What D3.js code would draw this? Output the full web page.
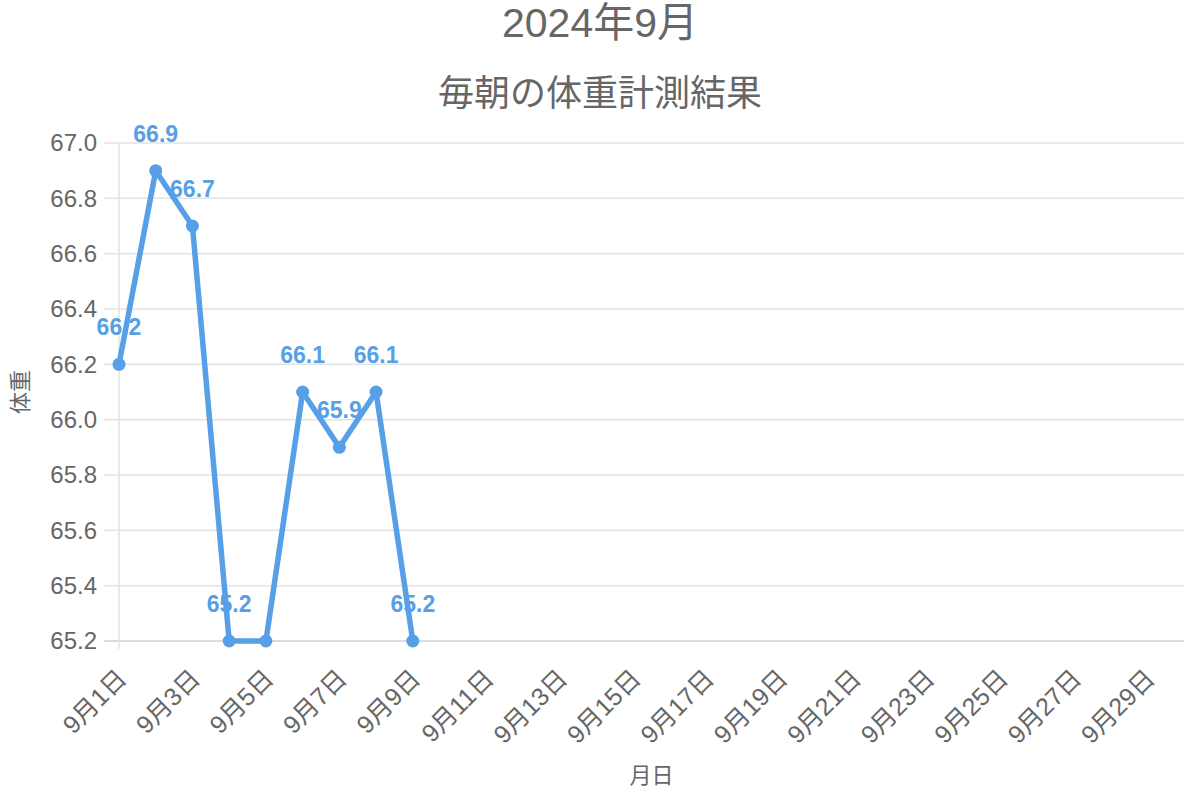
<!DOCTYPE html>
<html>
<head>
<meta charset="utf-8">
<script src="https://cdn.jsdelivr.net/npm/d3@7"></script>
<style>
  body { margin: 0; background: #fff; }
  svg text { font-family: "Liberation Sans", Arial, "Noto Sans CJK JP", sans-serif; }
</style>
</head>
<body>
<div id="chart"></div>
<script>
// 9月1日〜9月30日
const days = d3.range(1, 31).map(d => `9月${d}日`);
// 計測できた日だけ (9/1〜9/9)
const weights = [66.2, 66.9, 66.7, 65.2, 65.2, 66.1, 65.9, 66.1, 65.2];
// 重なるラベルは表示しない (9/5)
const showLabel = [true, true, true, true, false, true, true, true, true];
const yTicks = [65.2, 65.4, 65.6, 65.8, 66.0, 66.2, 66.4, 66.6, 66.8, 67.0];

const width = 1200, height = 800;
const margin = { top: 143, right: 16, bottom: 159, left: 119 };
const color = "#579fe6";
const textColor = "#666";

const svg = d3.select("#chart").append("svg")
  .attr("width", width)
  .attr("height", height);

const x = d3.scalePoint()
  .domain(days)
  .range([margin.left, width - margin.right]);

const y = d3.scaleLinear()
  .domain([65.2, 67.0])
  .range([height - margin.bottom, margin.top]);

// 横のグリッド線
svg.append("g")
  .selectAll("line")
  .data(yTicks)
  .join("line")
  .attr("x1", margin.left - 15)
  .attr("x2", width - margin.right)
  .attr("y1", d => y(d))
  .attr("y2", d => y(d))
  .attr("stroke", d => d === 65.2 ? "#d0d0d0" : "#e3e3e3")
  .attr("stroke-width", 1.5);

// y軸の線
svg.append("line")
  .attr("x1", margin.left).attr("x2", margin.left)
  .attr("y1", margin.top).attr("y2", height - margin.bottom + 8)
  .attr("stroke", "#e3e3e3")
  .attr("stroke-width", 1.5);

// y軸ラベル
svg.append("g")
  .selectAll("text")
  .data(yTicks)
  .join("text")
  .attr("x", margin.left - 22)
  .attr("y", d => y(d))
  .attr("dy", "0.35em")
  .attr("text-anchor", "end")
  .attr("font-size", 24)
  .attr("fill", textColor)
  .text(d => d.toFixed(1));

// x軸ラベル (一日おき)
svg.append("g")
  .selectAll("text")
  .data(days.filter((d, i) => i % 2 === 0 && i < 29))
  .join("text")
  .attr("transform", d => `translate(${x(d) + 3},${height - margin.bottom + 33}) rotate(-45)`)
  .attr("text-anchor", "end")
  .attr("dy", "0.35em")
  .attr("font-size", 25)
  .attr("fill", textColor)
  .text(d => d);

// 折れ線
const pts = weights.map((w, i) => ({ day: days[i], w, show: showLabel[i] }));

svg.append("path")
  .datum(pts)
  .attr("fill", "none")
  .attr("stroke", color)
  .attr("stroke-width", 5.5)
  .attr("stroke-linejoin", "round")
  .attr("d", d3.line().x(d => x(d.day)).y(d => y(d.w)));

svg.append("g")
  .selectAll("circle")
  .data(pts)
  .join("circle")
  .attr("cx", d => x(d.day))
  .attr("cy", d => y(d.w))
  .attr("r", 6.5)
  .attr("fill", color);

// データラベル
svg.append("g")
  .selectAll("text")
  .data(pts.filter(d => d.show))
  .join("text")
  .attr("x", d => x(d.day))
  .attr("y", d => y(d.w) - 29)
  .attr("text-anchor", "middle")
  .attr("font-size", 23)
  .attr("font-weight", "bold")
  .attr("fill", color)
  .text(d => d.w.toFixed(1));

// タイトル
svg.append("text")
  .attr("x", width / 2).attr("y", 37)
  .attr("text-anchor", "middle")
  .attr("font-size", 41)
  .attr("fill", textColor)
  .text("2024年9月");

svg.append("text")
  .attr("x", width / 2).attr("y", 106)
  .attr("text-anchor", "middle")
  .attr("font-size", 36)
  .attr("fill", textColor)
  .text("毎朝の体重計測結果");

// 軸タイトル
svg.append("text")
  .attr("transform", `translate(28,${(margin.top + height - margin.bottom) / 2}) rotate(-90)`)
  .attr("text-anchor", "middle")
  .attr("font-size", 22)
  .attr("fill", textColor)
  .text("体重");

svg.append("text")
  .attr("x", (margin.left + width - margin.right) / 2)
  .attr("y", 783)
  .attr("text-anchor", "middle")
  .attr("font-size", 22)
  .attr("fill", textColor)
  .text("月日");
</script>
</body>
</html>
